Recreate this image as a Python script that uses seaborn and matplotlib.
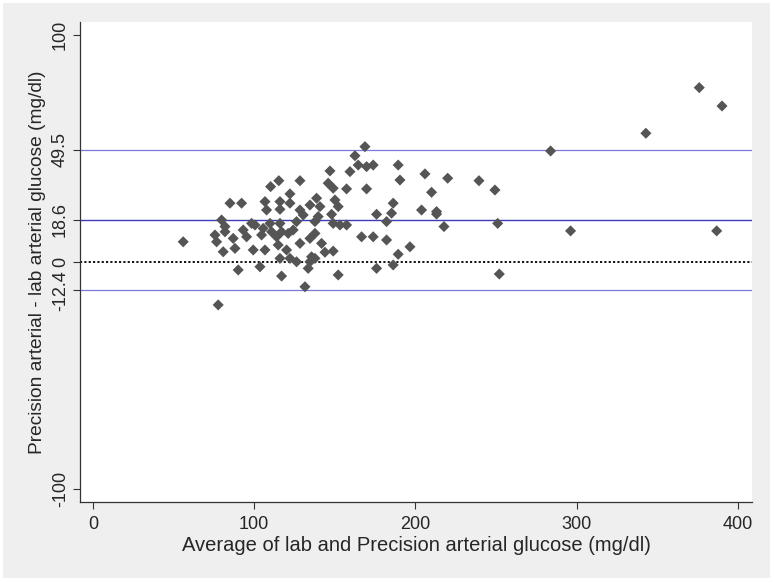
import numpy as np
import pandas as pd
import seaborn as sns
import matplotlib.pyplot as plt
from matplotlib.patches import Rectangle

# averages (x) and differences (y)
avg_glucose = [115.3, 110.2, 128.4, 85.0, 92.2, 122.2, 116.0, 106.7, 107.7, 122.2,
               128.4, 116.0, 79.8, 81.9, 81.9, 75.7, 76.7, 80.8, 87.0, 88.1,
               93.2, 95.3, 98.4, 100.5, 105.6, 104.6, 110.8, 109.8, 116.0, 117.0,
               113.9, 121.1, 124.2, 126.3, 99.4, 106.7, 114.9, 120.1, 122.2, 126.3,
               116.0, 90.1, 103.6, 117.0, 131.5, 128.4, 56.0, 77.7, 168.7, 162.5,
               164.5, 169.7, 173.8, 159.4, 147.0, 189.3, 190.4, 145.9, 149.0, 157.3,
               169.7, 138.7, 134.6, 140.8, 150.1, 152.1, 130.4, 139.7, 137.7, 148.0,
               175.9, 186.2, 185.2, 149.0, 153.2, 157.3, 182.1, 137.7, 134.6, 141.8,
               166.6, 173.8, 182.1, 196.6, 149.0, 143.9, 135.6, 137.7, 134.6, 189.3,
               186.2, 175.9, 133.5, 152.1, 205.9, 220.0, 210.0, 203.8, 213.1, 213.1,
               217.7, 239.4, 249.3, 251.0, 252.0, 283.8, 296.2, 342.9, 376.0, 390.1,
               386.8]
diff_glucose = [35.8, 33.2, 35.8, 25.9, 25.9, 30.0, 26.6, 26.6, 22.9, 25.9,
                22.9, 23.2, 18.5, 15.6, 13.3, 11.9, 8.9, 4.5, 10.4, 6.0,
                14.1, 11.1, 17.0, 16.3, 14.8, 11.9, 13.3, 17.0, 17.0, 13.3,
                11.1, 12.6, 14.1, 17.8, 5.3, 5.3, 7.5, 5.3, 1.6, 0.1,
                1.6, -3.5, -2.1, -6.2, -10.9, 8.2, 8.9, -18.9, 50.8, 46.8,
                42.7, 42.0, 42.7, 39.8, 40.1, 42.7, 36.1, 34.7, 32.5, 32.2,
                32.2, 28.1, 25.1, 24.4, 27.3, 24.4, 20.7, 20.0, 17.8, 21.0,
                21.0, 25.9, 21.5, 17.0, 16.3, 16.3, 17.8, 12.6, 10.4, 8.2,
                11.1, 11.1, 9.7, 6.7, 4.8, 4.3, 2.3, 1.6, 0.1, 3.4,
                -1.3, -2.8, -2.8, -5.7, 38.8, 36.9, 30.7, 22.9, 22.2, 21.1,
                15.6, 35.8, 31.7, 17.0, -5.3, 48.9, 13.7, 56.7, 76.8, 68.7,
                13.7]

mean_diff = 18.6
upper_loa = 49.5
lower_loa = -12.4
y_ticks = [-100, lower_loa, 0, mean_diff, upper_loa, 100]
y_tick_labels = ["-100", "-12.4", "0", "18.6", "49.5", "100"]
x_ticks = [0, 100, 200, 300, 400]

df = pd.DataFrame({"avg": avg_glucose, "diff": diff_glucose})

sns.set_style("ticks")
plt.rcParams["font.family"] = ["Liberation Sans", "DejaVu Sans"]

fig = plt.figure(figsize=(7.75, 5.83), dpi=100, facecolor="white")
# stata-like grey panel behind the plot region
fig.patches.append(Rectangle((3 / 775, 5 / 583), 767 / 775, 575 / 583,
                             transform=fig.transFigure, facecolor="#efefef",
                             edgecolor="none", zorder=-10))
ax = fig.add_axes([80 / 775, 81 / 583, 672 / 775, 480 / 583])
ax.set_zorder(1)
ax.set_facecolor("white")

ax.axhline(upper_loa, color="#7a7ad8", lw=0.9, zorder=1)
ax.axhline(lower_loa, color="#7a7ad8", lw=0.9, zorder=1)
ax.axhline(mean_diff, color="#3c3cb8", lw=1.0, zorder=1)
ax.axhline(0, color="black", lw=1.3, ls=(0, (1.2, 1.2)), zorder=1)

sns.scatterplot(data=df, x="avg", y="diff", marker="D", s=32, color="#555555",
                edgecolor="none", ax=ax, zorder=3)

ax.set_xlim(-8, 408.7)
ax.set_ylim(-105.7, 105.7)
ax.set_xticks(x_ticks)
ax.set_yticks(y_ticks)
ax.set_yticklabels(y_tick_labels, rotation=90, va="center")
ax.tick_params(axis="both", labelsize=13, length=5, width=0.8, color="#333333")
ax.tick_params(axis="x", pad=5)
ax.tick_params(axis="y", pad=3)
ax.set_xlabel("Average of lab and Precision arterial glucose (mg/dl)", fontsize=14.5, labelpad=2)
ax.set_ylabel("Precision arterial - lab arterial glucose (mg/dl)", fontsize=13.8, labelpad=4)

sns.despine(ax=ax)
for sp in ["left", "bottom"]:
    ax.spines[sp].set_color("#333333")
    ax.spines[sp].set_linewidth(0.9)

fig.savefig("out.png", dpi=100, facecolor="white")
